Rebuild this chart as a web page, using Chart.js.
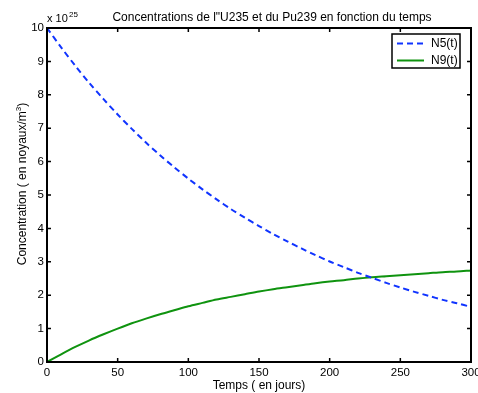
<!DOCTYPE html>
<html>
<head>
<meta charset="utf-8">
<script src="https://cdn.jsdelivr.net/npm/chart.js@4.4.0/dist/chart.umd.min.js"></script>
<style>
  html, body { margin: 0; padding: 0; background: #fff; }
  #wrap { width: 478px; height: 393px; }
</style>
</head>
<body>
<div id="wrap"><canvas id="graphe"></canvas></div>
<script>
// Temps (jours) et concentrations (x 10^25 noyaux/m3)
const jours = [0, 10, 20, 30, 40, 50, 60, 70, 80, 90, 100, 110, 120, 130, 140, 150,
               160, 170, 180, 190, 200, 210, 220, 230, 240, 250, 260, 270, 280, 290, 300];
const n5 = [10, 9.42, 8.87, 8.35, 7.87, 7.41, 6.98, 6.57, 6.19, 5.83, 5.49, 5.17, 4.87, 4.58, 4.32, 4.07,
            3.83, 3.61, 3.40, 3.20, 3.01, 2.84, 2.67, 2.52, 2.37, 2.23, 2.10, 1.98, 1.86, 1.76, 1.65];
const n9 = [0, 0.23, 0.45, 0.65, 0.83, 1.00, 1.16, 1.30, 1.43, 1.55, 1.67, 1.77, 1.87, 1.95, 2.03, 2.11,
            2.18, 2.24, 2.30, 2.36, 2.41, 2.45, 2.50, 2.54, 2.57, 2.60, 2.63, 2.66, 2.69, 2.71, 2.74];
const xTicks = [0, 50, 100, 150, 200, 250, 300];
const yTicks = [0, 1, 2, 3, 4, 5, 6, 7, 8, 9, 10];
const legendes = ['N5(t)', 'N9(t)'];

const police = '"Liberation Sans", Arial, Helvetica, sans-serif';
const bleu = '#1034ff';
const vert = '#0f930f';

// cadre façon MATLAB : boîte, graduations vers l'intérieur, titres, légende, facteur x 10^25
const cadreMatlab = {
  id: 'cadreMatlab',
  afterDatasetsDraw(chart) {
    const { ctx, chartArea: a, scales } = chart;
    ctx.save();
    ctx.strokeStyle = '#000';
    ctx.lineWidth = 2;
    ctx.strokeRect(a.left, a.top, a.right - a.left, a.bottom - a.top);

    ctx.lineWidth = 1.5;
    ctx.beginPath();
    xTicks.forEach(v => {
      const x = scales.x.getPixelForValue(v);
      ctx.moveTo(x, a.bottom); ctx.lineTo(x, a.bottom - 4);
      ctx.moveTo(x, a.top); ctx.lineTo(x, a.top + 4);
    });
    yTicks.forEach(v => {
      const y = scales.y.getPixelForValue(v);
      ctx.moveTo(a.left, y); ctx.lineTo(a.left + 4, y);
      ctx.moveTo(a.right, y); ctx.lineTo(a.right - 4, y);
    });
    ctx.stroke();

    // légende
    ctx.fillStyle = '#fff';
    ctx.fillRect(392, 34, 68, 34);
    ctx.strokeStyle = '#000';
    ctx.lineWidth = 1.5;
    ctx.strokeRect(392, 34, 68, 34);
    const couleurs = [bleu, vert];
    const tirets = [[6, 4], []];
    const ys = [43.5, 60.5];
    ctx.font = '12px ' + police;
    ctx.textBaseline = 'middle';
    ctx.textAlign = 'left';
    legendes.forEach((txt, i) => {
      ctx.strokeStyle = couleurs[i];
      ctx.lineWidth = 2;
      ctx.setLineDash(tirets[i]);
      ctx.beginPath();
      ctx.moveTo(397, ys[i]); ctx.lineTo(424, ys[i]);
      ctx.stroke();
      ctx.setLineDash([]);
      ctx.fillStyle = '#000';
      ctx.fillText(txt, 431, ys[i] + 0.5);
    });

    // titre
    ctx.textAlign = 'center';
    ctx.textBaseline = 'alphabetic';
    ctx.fillText('Concentrations de l"U235 et du Pu239 en fonction du temps', 272, 21);

    // titre de l'axe y (avec exposant)
    ctx.save();
    ctx.translate(26, 184);
    ctx.rotate(-Math.PI / 2);
    const base = 'Concentration ( en noyaux/m';
    ctx.font = '12px ' + police;
    const wBase = ctx.measureText(base).width;
    ctx.font = '8px ' + police;
    const wExp = ctx.measureText('3').width;
    ctx.font = '12px ' + police;
    const wFin = ctx.measureText(')').width;
    let x0 = -(wBase + wExp + wFin) / 2;
    ctx.textAlign = 'left';
    ctx.fillText(base, x0, 0);
    ctx.font = '8px ' + police;
    ctx.fillText('3', x0 + wBase, -5);
    ctx.font = '12px ' + police;
    ctx.fillText(')', x0 + wBase + wExp, 0);
    ctx.restore();

    // facteur d'échelle
    ctx.textAlign = 'left';
    ctx.font = '11px ' + police;
    ctx.fillText('x 10', 47, 22);
    ctx.font = '8px ' + police;
    ctx.fillText('25', 69, 17);
    ctx.restore();
  }
};

const ctx = document.getElementById('graphe').getContext('2d');
new Chart(ctx, {
  type: 'line',
  data: {
    datasets: [
      {
        label: legendes[0],
        data: jours.map((t, i) => ({ x: t, y: n5[i] })),
        borderColor: bleu,
        borderWidth: 2,
        borderDash: [6, 4],
        pointRadius: 0,
        tension: 0.3,
        fill: false
      },
      {
        label: legendes[1],
        data: jours.map((t, i) => ({ x: t, y: n9[i] })),
        borderColor: vert,
        borderWidth: 2,
        pointRadius: 0,
        tension: 0.3,
        fill: false
      }
    ]
  },
  options: {
    responsive: true,
    maintainAspectRatio: false,
    animation: false,
    layout: { padding: { left: 0, top: 28, right: 7, bottom: 0 } },
    plugins: {
      legend: { display: false },
      tooltip: { enabled: false },
      title: { display: false }
    },
    scales: {
      x: {
        type: 'linear',
        min: 0,
        max: 300,
        afterFit: s => { s.height = 31; s.paddingLeft = 0; s.paddingRight = 0; },
        afterBuildTicks: s => { s.ticks = xTicks.map(v => ({ value: v })); },
        grid: { display: false, drawTicks: false },
        border: { display: false },
        ticks: { color: '#000', padding: 4, maxRotation: 0, font: { family: police, size: 11.5 } },
        title: {
          display: true,
          text: 'Temps ( en jours)',
          color: '#000',
          font: { family: police, size: 12 },
          padding: { top: 0, bottom: 0 }
        }
      },
      y: {
        min: 0,
        max: 10,
        afterFit: s => { s.width = 47; s.paddingTop = 0; s.paddingBottom = 0; },
        afterBuildTicks: s => { s.ticks = yTicks.map(v => ({ value: v })); },
        grid: { display: false, drawTicks: false },
        border: { display: false },
        ticks: { color: '#000', padding: 3, font: { family: police, size: 11.5 } }
      }
    }
  },
  plugins: [cadreMatlab]
});
</script>
</body>
</html>
